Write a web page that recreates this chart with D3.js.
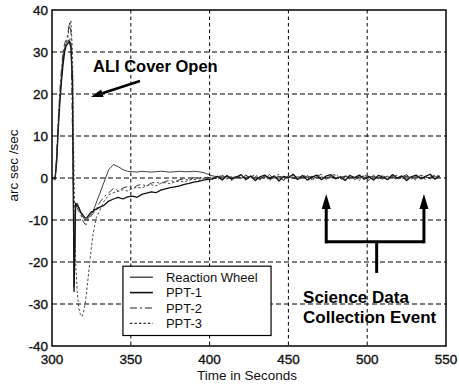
<!DOCTYPE html>
<html>
<head>
<meta charset="utf-8">
<script src="https://cdn.jsdelivr.net/npm/d3@7"></script>
<style>
  html, body { margin: 0; padding: 0; background: #fff; }
  svg { display: block; font-family: "Liberation Sans", Arial, sans-serif; }
</style>
</head>
<body>
<div id="chart"></div>
<script>
// Attitude rate during ALI cover opening, arc sec / sec vs time (s)

const time = [
  300, 302, 303, 304, 305, 306, 307, 308, 309, 310, 311, 312, 313, 314, 315, 316, 317, 318, 319, 320, 321, 322, 323, 324, 325, 326, 327, 328, 330, 333, 336,
  339, 342, 345, 348, 351, 354, 357, 360, 363, 366, 369, 372, 375, 378, 381, 384, 387, 390, 393, 396, 399,
  402, 405, 408, 411, 414, 417, 420, 423, 426, 429, 432, 435, 438, 441, 444, 447, 450, 453, 456, 459, 462, 465, 468, 471, 474,
  477, 480, 483, 486, 489, 492, 495, 498, 501, 504, 507, 510, 513, 516, 519, 522, 525, 528, 531, 534, 537, 540, 543, 546
];

const reactionWheel = [
  0, -0.5, 5, 13, 19, 24, 28, 31, 32, 32.5, 33, 32, 20, -26, -7, -6, -7, -8, -9, -9.5, -10, -10, -9.5, -9, -8.5, -8, -7, -6, -4, -1, 2,
  3.2, 2.7, 2.0, 1.6, 1.5, 1.4, 1.6, 1.5, 1.4, 1.5, 1.6, 1.5, 1.4, 1.5, 1.6, 1.5, 1.5, 1.6, 1.5, 1.3, 0.9,
  0.5, 0.3, 0.2, 0.4, 0.1, 0.3, 0.0, 0.2, 0.4, 0.1, -0.1, 0.3, 0.2, 0.0, 0.4, 0.1, 0.2, -0.1, 0.3, 0.1, 0.2, 0.4, 0.0, 0.2, 0.1,
  0.3, -0.1, 0.2, 0.4, 0.1, 0.0, 0.3, 0.2, 0.1, 0.4, 0.0, 0.2, 0.3, 0.1, -0.1, 0.2, 0.4, 0.1, 0.3, 0.0, 0.2, 0.1, 0.3, 0.2
];

const ppt1 = [
  0, 0, 4, 12, 18, 23, 27, 30, 31.5, 32, 32.5, 31, 24, -27, -6, -6.5, -7, -8, -8.5, -9, -9.5, -9.5, -9, -8.5, -8, -8, -7.5, -7.5, -7, -6.5, -5.5,
  -5, -4.6, -5, -4.5, -4.3, -4.6, -3.9, -3.6, -3.3, -3.5, -2.9, -2.6, -2.3, -2.1, -1.9, -1.5, -1.3, -1.0, -0.8, -0.5, -0.3,
  -0.2, 0.4, -0.5, 0.6, -0.3, 0.2, 0.8, -0.4, 0.5, -0.6, 0.3, 0.7, -0.2, 0.5, -0.7, 0.4, 0.1, 0.9, -0.3, 0.6, -0.5, 0.2, 0.7, -0.4, 0.5,
  0.8, -0.2, 0.3, -0.6, 0.6, 0.1, 0.7, -0.3, 0.4, -0.5, 0.6, 0.2, -0.4, 0.8, 0.0, 0.5, -0.6, 0.3, 0.7, -0.2, 0.4, 0.9, -0.3, 0.5
];

const ppt2 = [
  0, 0, 6, 14, 21, 26, 30, 32, 33, 34, 37, 35, 10, -12, -6.5, -7, -8, -8.5, -9.5, -10.5, -11, -11, -10, -9.5, -9, -8.5, -8, -7.5, -6, -4.5, -3.5,
  -2.5, -3.0, -2.4, -2.0, -2.6, -1.8, -1.5, -1.9, -1.2, -1.0, -1.3, -0.8, -0.6, -0.9, -0.4, -0.2, -0.5, 0.1, -0.2, 0.2, 0.0,
  0.3, -0.4, 0.6, 0.1, -0.6, 0.5, -0.2, 0.7, 0.0, 0.4, -0.5, 0.2, 0.8, -0.3, 0.3, -0.6, 0.6, 0.1, -0.4, 0.7, 0.2, -0.5, 0.4, 0.9, -0.2,
  0.1, 0.6, -0.5, 0.3, 0.8, -0.4, 0.2, 0.5, -0.6, 0.7, 0.1, -0.3, 0.6, 0.4, -0.5, 0.3, 0.8, -0.2, 0.1, 0.6, -0.4, 0.2, 0.7, 0.3
];

const ppt3 = [
  0, 0, 4, 12, 19, 25, 29, 31, 32, 33.5, 36, 37.5, 30, 0, -20, -27, -31, -32.5, -33, -32, -30, -27, -23.5, -20, -16.5, -13.5, -11.5, -9.5, -8, -5.5, -4,
  -3.5, -3.2, -2.8, -3.1, -2.5, -2.2, -2.4, -1.8, -1.6, -1.9, -1.3, -1.1, -1.4, -0.9, -0.7, -1.0, -0.5, -0.3, -0.6, -0.1, 0.2,
  -0.4, 0.2, 0.7, -0.3, 0.4, -0.1, 0.6, -0.5, 0.3, 0.8, -0.2, 0.5, -0.6, 0.2, 0.9, -0.4, 0.3, 0.6, -0.3, 0.1, 0.7, -0.5, 0.4, 0.2, -0.4,
  0.6, 0.9, -0.1, 0.5, -0.3, 0.4, -0.6, 0.7, 0.2, 0.5, -0.2, 0.8, -0.4, 0.3, 0.6, -0.3, 0.5, 0.1, -0.5, 0.7, 0.3, -0.2, 0.6, 0.4
];

const seriesNames = ["Reaction Wheel", "PPT-1", "PPT-2", "PPT-3"];
const seriesValues = [reactionWheel, ppt1, ppt2, ppt3];
const xTicks = [300, 350, 400, 450, 500, 550];
const yTicks = [-40, -30, -20, -10, 0, 10, 20, 30, 40];

const W = 459, H = 385;
const M = { left: 52, right: 13, top: 10, bottom: 39 };

const svg = d3.select("#chart").append("svg")
  .attr("width", W).attr("height", H)
  .attr("viewBox", `0 0 ${W} ${H}`);

const x = d3.scaleLinear().domain([300, 550]).range([M.left, W - M.right]);
const y = d3.scaleLinear().domain([-40, 40]).range([H - M.bottom, M.top]);

// line styles per series (all black in the original print)
const styles = [
  { width: 0.9, dash: null, color: "#2a2a2a" },
  { width: 1.3, dash: null, color: "#111" },
  { width: 0.9, dash: "7,3,2,3", color: "#222" },
  { width: 0.9, dash: "2.5,2", color: "#333" }
];

// dashed grid
const grid = svg.append("g");
grid.selectAll("line.gx").data(xTicks.slice(1, -1)).join("line")
  .attr("x1", d => x(d)).attr("x2", d => x(d))
  .attr("y1", y(40)).attr("y2", y(-40))
  .attr("stroke", "#000").attr("stroke-width", 1).attr("stroke-dasharray", "3.5,3");
grid.selectAll("line.gy").data(yTicks.slice(1, -1)).join("line")
  .attr("x1", x(300)).attr("x2", x(550))
  .attr("y1", d => y(d)).attr("y2", d => y(d))
  .attr("stroke", "#000").attr("stroke-width", 1.1).attr("stroke-dasharray", "5,3");

// data lines
const line = d3.line().x(d => x(d[0])).y(d => y(d[1]));
seriesValues.forEach((vals, i) => {
  const pts = time.map((t, k) => [t, vals[k]]);
  const st = styles[i];
  svg.append("path").datum(pts)
    .attr("fill", "none")
    .attr("stroke", st.color)
    .attr("stroke-width", st.width)
    .attr("stroke-dasharray", st.dash)
    .attr("stroke-linejoin", "round")
    .attr("d", line);
});

// frame
svg.append("rect")
  .attr("x", x(300)).attr("y", y(40))
  .attr("width", x(550) - x(300)).attr("height", y(-40) - y(40))
  .attr("fill", "none").attr("stroke", "#000").attr("stroke-width", 1.5);

// tick labels (scan looks a touch heavy, so a thin stroke)
const labelStyle = s => s.attr("font-size", 13.5).attr("fill", "#111")
  .attr("stroke", "#111").attr("stroke-width", 0.35);
svg.append("g").selectAll("text").data(yTicks).join("text")
  .attr("x", x(300) - 4).attr("y", d => y(d)).attr("dy", "0.36em")
  .attr("text-anchor", "end").call(labelStyle)
  .text(d => d);
svg.append("g").selectAll("text").data(xTicks).join("text")
  .attr("x", d => x(d)).attr("y", y(-40) + 18)
  .attr("text-anchor", "middle").call(labelStyle)
  .text(d => d);

// axis titles
svg.append("text")
  .attr("x", (x(300) + x(550)) / 2 - 2).attr("y", H - 5)
  .attr("text-anchor", "middle").attr("font-size", 13.5).attr("fill", "#111")
  .text("Time in Seconds");
svg.append("text")
  .attr("transform", `translate(18,${y(3)}) rotate(-90)`)
  .attr("text-anchor", "middle").attr("font-size", 13.5).attr("fill", "#111")
  .text("arc sec /sec");

// legend
const lg = svg.append("g");
const lgX = x(345), lgY = y(-21), lgW = x(439) - x(345), lgH = y(-37.5) - y(-21);
lg.append("rect").attr("x", lgX).attr("y", lgY).attr("width", lgW).attr("height", lgH)
  .attr("fill", "#fff").attr("stroke", "#000").attr("stroke-width", 1.2);
seriesNames.forEach((name, i) => {
  const ry = lgY + 11 + i * 15.4;
  const st = styles[i];
  lg.append("line")
    .attr("x1", lgX + 7).attr("x2", lgX + 30).attr("y1", ry).attr("y2", ry)
    .attr("stroke", st.color).attr("stroke-width", st.width + 0.3)
    .attr("stroke-dasharray", st.dash);
  lg.append("text")
    .attr("x", lgX + 43).attr("y", ry).attr("dy", "0.36em")
    .attr("font-size", 13).attr("fill", "#111")
    .text(name);
});

// arrow helper: filled head at (x2,y2)
function arrow(g, x1, y1, x2, y2, width, headLen, headW) {
  const a = Math.atan2(y2 - y1, x2 - x1);
  const bx = x2 - headLen * Math.cos(a), by = y2 - headLen * Math.sin(a);
  g.append("line").attr("x1", x1).attr("y1", y1).attr("x2", bx).attr("y2", by)
    .attr("stroke", "#000").attr("stroke-width", width);
  const nx = -Math.sin(a) * headW / 2, ny = Math.cos(a) * headW / 2;
  g.append("path")
    .attr("d", `M${x2},${y2}L${bx + nx},${by + ny}L${bx - nx},${by - ny}Z`)
    .attr("fill", "#000");
}

const ann = svg.append("g");
ann.append("text")
  .attr("x", x(326)).attr("y", y(25.2))
  .attr("font-size", 16.5).attr("font-weight", "bold").attr("fill", "#000")
  .text("ALI Cover Open");
arrow(ann, x(355.8), y(23.1), x(324.7), y(19.3), 2.5, 12, 8);

// science data collection bracket
const barY = y(-15.2);
ann.append("line").attr("x1", x(474)).attr("x2", x(536)).attr("y1", barY).attr("y2", barY)
  .attr("stroke", "#000").attr("stroke-width", 3);
ann.append("line").attr("x1", x(506)).attr("x2", x(506)).attr("y1", barY).attr("y2", y(-22.6))
  .attr("stroke", "#000").attr("stroke-width", 3);
arrow(ann, x(474), barY + 1.5, x(474), y(-3.8), 3, 15, 9);
arrow(ann, x(536), barY + 1.5, x(536), y(-3.8), 3, 15, 9);
ann.append("text")
  .attr("x", x(459.3)).attr("y", y(-29.8))
  .attr("font-size", 17).attr("font-weight", "bold").attr("fill", "#000")
  .text("Science Data");
ann.append("text")
  .attr("x", x(459.3)).attr("y", y(-34.5))
  .attr("font-size", 17).attr("font-weight", "bold").attr("fill", "#000")
  .text("Collection Event");
</script>
</body>
</html>
